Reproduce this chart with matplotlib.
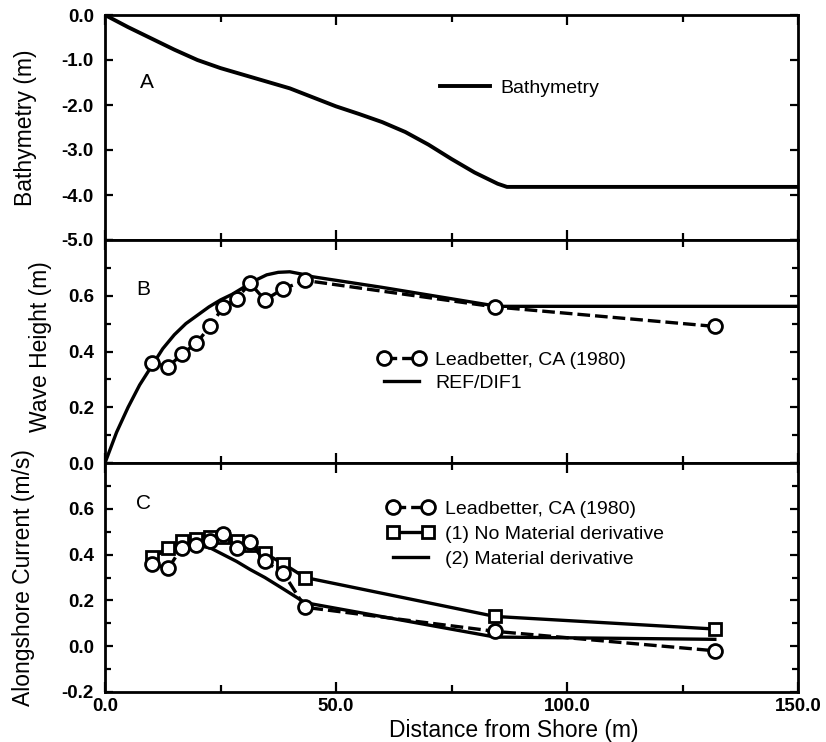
import matplotlib
matplotlib.use("Agg")
import matplotlib.pyplot as plt
from matplotlib.ticker import MultipleLocator

plt.rcParams['font.family'] = ['Liberation Sans', 'DejaVu Sans']

# --- Panel A: beach profile ---
bath_x = [0, 5, 10, 15, 20, 25, 30, 35, 40, 45, 50, 55, 60, 65, 70, 75, 80, 85, 87, 150]
bath_z = [0.0, -0.27, -0.52, -0.77, -1.0, -1.18, -1.33, -1.48, -1.63, -1.83, -2.03,
          -2.2, -2.38, -2.6, -2.88, -3.2, -3.5, -3.75, -3.82, -3.82]

# --- Gauge locations (Leadbetter Beach, 1980) ---
gauge_x = [10.1, 13.7, 16.6, 19.8, 22.7, 25.6, 28.5, 31.4, 34.6, 38.6, 43.3, 84.4, 132.0]

# --- Panel B: wave height ---
obs_height = [0.36, 0.345, 0.39, 0.43, 0.49, 0.56, 0.59, 0.645, 0.585, 0.625, 0.655, 0.56, 0.49]
refdif_x = [0, 2.5, 5, 7.5, 10, 12.5, 15, 17.5, 20, 22.5, 25, 27.5, 30, 32.5, 35,
            37.5, 40, 42.5, 45, 60, 85, 150]
refdif_h = [0.0, 0.11, 0.2, 0.28, 0.345, 0.41, 0.46, 0.5, 0.53, 0.56, 0.585, 0.605,
            0.63, 0.655, 0.675, 0.684, 0.686, 0.678, 0.668, 0.63, 0.562, 0.562]

# --- Panel C: alongshore current ---
obs_current = [0.36, 0.34, 0.43, 0.44, 0.46, 0.49, 0.43, 0.455, 0.37, 0.32, 0.17, 0.065, -0.02]
no_matderiv = [0.39, 0.43, 0.46, 0.47, 0.475, 0.475, 0.46, 0.44, 0.405, 0.36, 0.30, 0.13, 0.075]
matderiv = [0.39, 0.42, 0.435, 0.44, 0.43, 0.40, 0.37, 0.335, 0.30, 0.25, 0.19, 0.04, 0.03]

x_ticks = [0, 50, 100, 150]
x_ticklabels = ['0.0', '50.0', '100.0', '150.0']

W, H = 826, 742
fig = plt.figure(figsize=(W / 100, H / 100), dpi=100)

def px_axes(top, bottom, left=105, right=798):
    return fig.add_axes([left / W, 1 - bottom / H, (right - left) / W, (bottom - top) / H])

axA = px_axes(15, 240)
axB = px_axes(240, 463)
axC = px_axes(463, 692)

LW = 2.4
TICK_FS = 13.5
LABEL_FS = 16.5
LEG_FS = 14
dash = (3.8, 1.5)
mk = dict(marker='o', markersize=10, markerfacecolor='white', markeredgecolor='black',
          markeredgewidth=2.0)
sq = dict(marker='s', markersize=9, markerfacecolor='white', markeredgecolor='black',
          markeredgewidth=2.0)

for ax in (axA, axB, axC):
    ax.set_xlim(0, 150)
    ax.set_xticks(x_ticks)
    ax.xaxis.set_minor_locator(MultipleLocator(25))
    for s in ax.spines.values():
        s.set_linewidth(2.0)
    ax.tick_params(axis='x', which='both', direction='in', top=True, bottom=True,
                   width=1.6, labelsize=TICK_FS, pad=4)
    ax.tick_params(axis='x', which='major', length=7)
    ax.tick_params(axis='x', which='minor', length=5)
    ax.tick_params(axis='y', which='both', direction='in', left=True, right=True,
                   width=1.6, labelsize=TICK_FS, pad=8)
    ax.tick_params(axis='y', which='major', length=6)
    ax.tick_params(axis='y', which='minor', length=4)

# Panel A
axA.plot(bath_x, bath_z, color='black', lw=2.8, label='Bathymetry')
axA.set_ylim(-5, 0)
axA.set_yticks([0, -1, -2, -3, -4, -5],
               labels=['0.0', '-1.0', '-2.0', '-3.0', '-4.0', '-5.0'], fontweight='bold')
axA.set_ylabel('Bathymetry (m)', fontsize=LABEL_FS)
axA.yaxis.set_label_coords(-0.098, 0.5)
axA.text(0.061, 0.698, 'A', transform=axA.transAxes, fontsize=15, ha='center', va='center')
axA.legend(loc='center left', bbox_to_anchor=(0.483, 0.676), frameon=False,
           fontsize=LEG_FS, handlelength=2.6, handletextpad=0.5, borderpad=0,
           borderaxespad=0)

# Panel B
axB.plot(refdif_x, refdif_h, color='black', lw=LW, label='REF/DIF1', zorder=2)
axB.plot(gauge_x, obs_height, color='black', lw=LW, dashes=dash,
         label='Leadbetter, CA (1980)', zorder=3, **mk)
axB.set_ylim(0, 0.8)
axB.set_yticks([0, 0.2, 0.4, 0.6, 0.8], labels=['0.0', '0.2', '0.4', '0.6', ''],
               fontweight='bold')
axB.yaxis.set_minor_locator(MultipleLocator(0.1))
axB.set_ylabel('Wave Height (m)', fontsize=LABEL_FS)
axB.yaxis.set_label_coords(-0.076, 0.52)
axB.text(0.055, 0.776, 'B', transform=axB.transAxes, fontsize=15, ha='center', va='center')
hB, lB = axB.get_legend_handles_labels()
axB.legend(hB[::-1], lB[::-1], loc='center left', bbox_to_anchor=(0.394, 0.41),
           frameon=False, fontsize=LEG_FS, handlelength=2.4, handletextpad=0.55,
           labelspacing=0.3, borderpad=0, borderaxespad=0, numpoints=2)

# Panel C
axC.plot(gauge_x, matderiv, color='black', lw=LW, label='(2) Material derivative', zorder=2)
axC.plot(gauge_x, no_matderiv, color='black', lw=LW, label='(1) No Material derivative',
         zorder=3, **sq)
axC.plot(gauge_x, obs_current, color='black', lw=LW, dashes=dash,
         label='Leadbetter, CA (1980)', zorder=4, **mk)
axC.set_ylim(-0.2, 0.8)
axC.set_yticks([-0.2, 0, 0.2, 0.4, 0.6, 0.8],
               labels=['-0.2', '0.0', '0.2', '0.4', '0.6', ''], fontweight='bold')
axC.yaxis.set_minor_locator(MultipleLocator(0.1))
axC.set_ylabel('Alongshore Current (m/s)', fontsize=LABEL_FS)
axC.yaxis.set_label_coords(-0.101, 0.5)
axC.text(0.055, 0.825, 'C', transform=axC.transAxes, fontsize=15, ha='center', va='center')
hC, lC = axC.get_legend_handles_labels()
axC.legend(hC[::-1], lC[::-1], loc='center left', bbox_to_anchor=(0.407, 0.69),
           frameon=False, fontsize=LEG_FS, handlelength=2.4, handletextpad=0.6,
           labelspacing=0.38, borderpad=0, borderaxespad=0, numpoints=2)

axA.tick_params(axis='x', labelbottom=False)
axB.tick_params(axis='x', labelbottom=False)
axC.set_xticks(x_ticks, labels=x_ticklabels, fontweight='bold')
axC.set_xlabel('Distance from Shore (m)', fontsize=LABEL_FS)
axC.xaxis.set_label_coords(0.59, -0.12)

fig.savefig('out.png', dpi=100)
